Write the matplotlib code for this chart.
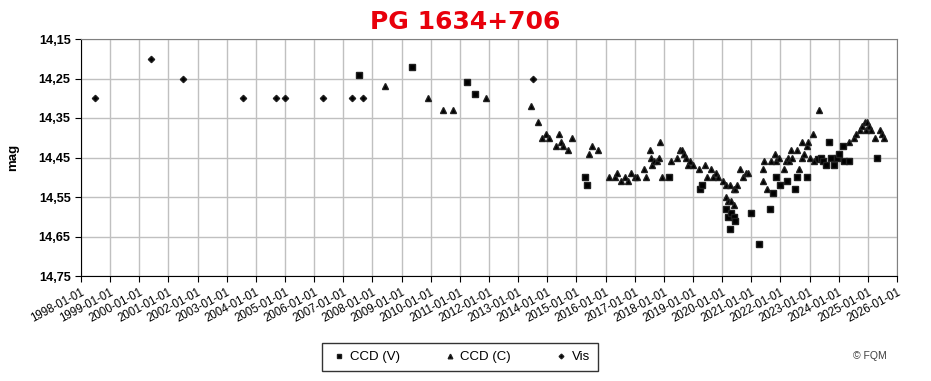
import matplotlib.pyplot as plt
from matplotlib.ticker import FixedLocator, FuncFormatter

# decimal years and magnitudes
vis_year = [1998.47, 2000.39, 2001.50, 2003.55, 2004.69, 2004.99, 2006.30,
            2007.29, 2007.68, 2013.51]
vis_mag = [14.30, 14.20, 14.25, 14.30, 14.30, 14.30, 14.30,
           14.30, 14.30, 14.25]

ccdv_year = [2007.53, 2009.36, 2011.25, 2011.51, 2015.30, 2015.36, 2018.18,
             2019.24, 2019.31, 2020.12, 2020.19, 2020.26, 2020.31, 2020.41,
             2020.43, 2020.98, 2021.27, 2021.64, 2021.74, 2021.85, 2021.99,
             2022.22, 2022.50, 2022.57, 2022.91, 2023.28, 2023.38, 2023.46,
             2023.57, 2023.66, 2023.74, 2023.84, 2023.94, 2024.00, 2024.16,
             2024.18, 2024.35, 2025.30]
ccdv_mag = [14.24, 14.22, 14.26, 14.29, 14.50, 14.52, 14.50,
            14.53, 14.52, 14.58, 14.60, 14.63, 14.59, 14.60,
            14.61, 14.59, 14.67, 14.58, 14.54, 14.50, 14.52,
            14.51, 14.53, 14.50, 14.50, 14.455, 14.45, 14.46,
            14.47, 14.41, 14.45, 14.47, 14.45, 14.44, 14.42,
            14.46, 14.46, 14.45]

ccdc_year = [2008.43, 2009.91, 2010.42, 2010.77, 2011.90, 2013.44, 2013.68,
             2013.83, 2013.96, 2014.06, 2014.30, 2014.40, 2014.46, 2014.54,
             2014.71, 2014.85, 2015.43, 2015.54, 2015.74, 2016.12, 2016.33,
             2016.39, 2016.53, 2016.68, 2016.77, 2016.87, 2017.01, 2017.08,
             2017.32, 2017.39, 2017.53, 2017.57, 2017.60, 2017.66, 2017.75,
             2017.84, 2017.88, 2017.94, 2018.26, 2018.46, 2018.56, 2018.61,
             2018.70, 2018.76, 2018.83, 2018.90, 2019.00, 2019.21, 2019.41,
             2019.48, 2019.62, 2019.70, 2019.79, 2019.85, 2020.03, 2020.14,
             2020.27, 2020.40, 2020.44, 2020.50, 2020.14, 2020.20, 2020.31,
             2020.42, 2020.62, 2020.72, 2020.81, 2020.88, 2021.39, 2021.41,
             2021.44, 2021.53, 2021.68, 2021.82, 2021.85, 2021.96, 2022.11,
             2022.19, 2022.25, 2022.30, 2022.37, 2022.40, 2022.57, 2022.64,
             2022.75, 2022.75, 2022.82, 2022.91, 2022.96, 2023.02, 2023.13,
             2023.16, 2023.33, 2024.34, 2024.52, 2024.61, 2024.72, 2024.80,
             2024.89, 2024.97, 2024.94, 2025.04, 2025.10, 2025.24, 2025.43,
             2025.50, 2025.57]
ccdc_mag = [14.27, 14.30, 14.33, 14.33, 14.30, 14.32, 14.36,
            14.40, 14.39, 14.40, 14.42, 14.39, 14.41, 14.42,
            14.43, 14.40, 14.44, 14.42, 14.43, 14.50, 14.50,
            14.49, 14.51, 14.50, 14.51, 14.49, 14.50, 14.50,
            14.48, 14.50, 14.43, 14.45, 14.47, 14.46, 14.46,
            14.45, 14.41, 14.50, 14.46, 14.45, 14.43, 14.43,
            14.44, 14.45, 14.47, 14.46, 14.47, 14.48, 14.47,
            14.50, 14.48, 14.50, 14.49, 14.50, 14.51, 14.52,
            14.52, 14.53, 14.53, 14.52, 14.55, 14.56, 14.56,
            14.57, 14.48, 14.50, 14.49, 14.49, 14.48, 14.51,
            14.46, 14.53, 14.46, 14.44, 14.46, 14.45, 14.48,
            14.46, 14.45, 14.46, 14.43, 14.45, 14.43, 14.48,
            14.41, 14.45, 14.44, 14.42, 14.41, 14.45, 14.39,
            14.46, 14.33, 14.41, 14.40, 14.39, 14.38, 14.37,
            14.36, 14.36, 14.38, 14.37, 14.38, 14.40, 14.38,
            14.39, 14.40]

year_ticks = list(range(1998, 2027))
mag_ticks = [14.15, 14.25, 14.35, 14.45, 14.55, 14.65, 14.75]

fig = plt.figure(figsize=(9.31, 3.81), dpi=100)
ax = fig.add_axes([81 / 931, 1 - 276 / 381, 816 / 931, 237 / 381])

ax.plot(ccdv_year, ccdv_mag, 's', color='black', markersize=4.0,
        markeredgecolor='#202020', label='CCD (V)', zorder=3)
ax.plot(ccdc_year, ccdc_mag, '^', color='black', markersize=4.4,
        markeredgecolor='#202020', label='CCD (C)', zorder=3)
ax.plot(vis_year, vis_mag, 'D', color='black', markersize=3.2,
        markeredgecolor='#202020', label='Vis', zorder=3)

ax.set_xlim(1998, 2026)
ax.set_ylim(14.75, 14.15)
ax.xaxis.set_major_locator(FixedLocator(year_ticks))
ax.yaxis.set_major_locator(FixedLocator(mag_ticks))
ax.xaxis.set_major_formatter(FuncFormatter(lambda v, p: f'{int(round(v))}-01-01'))
ax.yaxis.set_major_formatter(FuncFormatter(lambda v, p: f'{v:.2f}'.replace('.', ',')))

ax.grid(True, color='#c0c0c0', linewidth=1)
ax.set_axisbelow(True)
for s in ['top', 'right']:
    ax.spines[s].set_color('#808080')
for s in ['left', 'bottom']:
    ax.spines[s].set_color('black')
ax.tick_params(axis='both', direction='out', length=4, color='black')

for lab in ax.get_yticklabels():
    lab.set_fontfamily('Liberation Sans')
    lab.set_fontweight('bold')
    lab.set_fontsize(9.2)
for lab in ax.get_xticklabels():
    lab.set_fontfamily('Liberation Sans')
    lab.set_fontsize(8.3)
    lab.set_rotation(28)
    lab.set_ha('right')
    lab.set_rotation_mode('anchor')

ax.set_ylabel('mag', fontfamily='Liberation Sans', fontweight='bold',
              fontsize=9.5, labelpad=14)

fig.text(465 / 931, 1 - 22 / 381, 'PG 1634+706', color='#e8000b',
         fontsize=18, fontweight='bold', fontfamily='DejaVu Sans',
         ha='center', va='center')

leg = fig.legend(loc='center', bbox_to_anchor=(460 / 931, 1 - 357 / 381),
                 ncol=3, frameon=True, fancybox=False, edgecolor='black',
                 prop={'family': 'Liberation Sans', 'size': 9.5},
                 handletextpad=0.1, columnspacing=3.1, markerscale=0.75,
                 borderpad=0.6, handlelength=1.4)
leg.get_frame().set_linewidth(1.0)

fig.text(870 / 931, 1 - 356 / 381, '© FQM', fontsize=7.5, color='#404040',
         fontfamily='Liberation Sans', ha='center', va='center')

fig.savefig('out.png', dpi=100)
